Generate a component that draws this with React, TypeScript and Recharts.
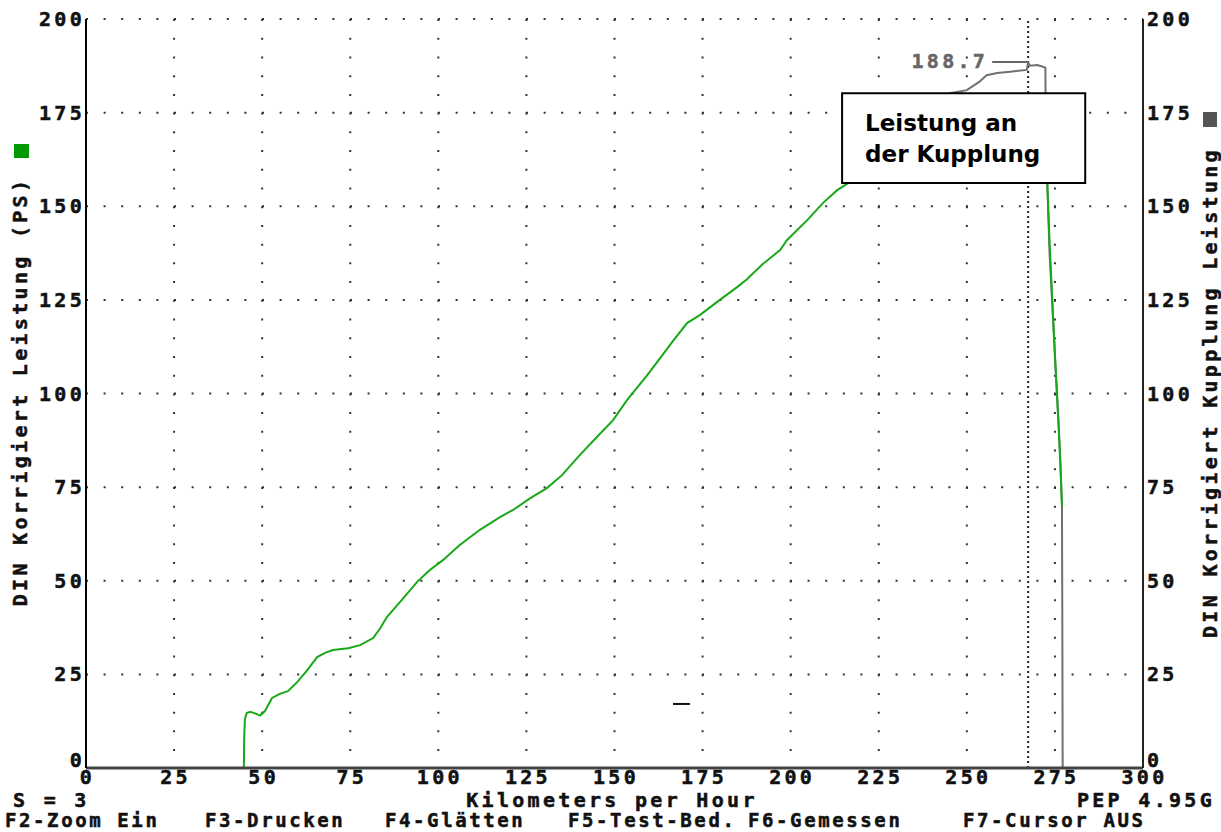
import React from "react";
import {
  LineChart,
  Line,
  XAxis,
  YAxis,
  CartesianGrid,
  ReferenceLine,
  ReferenceArea,
} from "recharts";

// ---- data ----
const xTicks = [0, 25, 50, 75, 100, 125, 150, 175, 200, 225, 250, 275, 300];
const yTicks = [0, 25, 50, 75, 100, 125, 150, 175, 200];

// DIN corrected power (green), [km/h, PS]
const dinSpeed = [
  44.8, 44.9, 45.1, 45.6, 46.6, 48, 49.4, 50.8, 52.8, 55, 57.3, 60, 62.7, 65.6, 68, 70.1,
  74.4, 77.8, 81.5, 83.5, 85.4, 89.1, 94, 97.5, 101.3, 106, 111.8, 117.5, 121.2, 126,
  130.9, 135.1, 140.2, 145, 149.6, 153.6, 159.3, 163, 166.4, 170.6, 174.3, 179.9, 184.8,
  187.6, 192, 197, 199, 204.7, 209.2, 213.2, 216.9, 225, 235, 245, 255, 265, 271.5, 272.5,
  272.8, 273.5, 274.5, 275.3, 276, 276.6, 277,
];
const dinPower = [
  0, 8, 13, 14.7, 15, 14.6, 14, 15.2, 18.7, 19.8, 20.5, 23, 26, 29.6, 30.8, 31.5, 32,
  32.8, 34.7, 37.3, 40.3, 44.3, 49.7, 52.8, 55.5, 59.5, 63.6, 67, 68.9, 72, 74.8, 78.2,
  83.6, 88.4, 92.9, 98.3, 104.9, 109.5, 113.8, 118.8, 121, 125, 128.4, 130.5, 134.5,
  138.3, 141, 146.3, 150.9, 154.3, 156.5, 161, 168, 174, 178, 179, 178, 165, 157, 140,
  120, 105, 92, 80, 70,
];

// Clutch power (gray), [km/h, PS]
const clutchSpeed = [
  238, 245.2, 250, 253.5, 255.6, 258.6, 263, 267, 267.4, 268, 270, 271.8, 272.3, 272.4,
  272.8, 273.5, 274.5, 275.1, 275.9, 276.5, 277, 277.1, 277.2,
];
const clutchPower = [
  175, 180.2, 181, 183.2, 185, 185.6, 186, 186.4, 188.3, 187.5, 187.7, 187.2, 187, 170,
  157, 137, 119.6, 108, 94.8, 83, 70, 40, 0,
];

const peakValue = 188.7;
const peakSpeed = 267.4;
const leaderStart = 257.2;
const markSpeeds = [166.6, 171.4];
const markPower = 17.1;
const boxX = [214.6, 283.6];
const boxY = [156.2, 180.2];
const boxLines = ["Leistung an", "der Kupplung"];

const leftTitle = "DIN Korrigiert Leistung (PS)";
const rightTitle = "DIN Korrigiert Kupplung Leistung";
const xTitle = "Kilometers per Hour";
const statusLeft = "S = 3";
const statusRight = "PEP 4.95G";
const fKeys = [
  { text: "F2-Zoom Ein", x: 5 },
  { text: "F3-Drucken", x: 205 },
  { text: "F4-Glätten", x: 385 },
  { text: "F5-Test-Bed.", x: 568 },
  { text: "F6-Gemessen", x: 748 },
  { text: "F7-Cursor AUS", x: 963 },
];

const dinData = dinSpeed.map((v, i) => ({ v, p: dinPower[i] }));
const clutchData = clutchSpeed.map((v, i) => ({ v, p: clutchPower[i] }));

const MONO = '"DejaVu Sans Mono", "Liberation Mono", monospace';
const monoStyle: React.CSSProperties = {
  fontFamily: MONO,
  fontWeight: "bold",
  fontSize: 20,
  letterSpacing: 3.3,
  stroke: "#111",
  strokeWidth: 0.5,
};
const fKeyStyle: React.CSSProperties = {
  ...monoStyle,
  fontSize: 19,
  letterSpacing: 2.6,
};

const LeftTick = (props: any) => {
  const { x, y, payload } = props;
  return (
    <text
      x={x}
      y={payload.value === 0 ? y - 8 : y}
      dy="0.355em"
      textAnchor="end"
      fill="#111"
      style={monoStyle}
    >
      {payload.value}
    </text>
  );
};

const RightTick = (props: any) => {
  const { x, y, payload } = props;
  return (
    <text
      x={x}
      y={payload.value === 0 ? y - 8 : y}
      dy="0.355em"
      textAnchor="start"
      fill="#111"
      style={monoStyle}
    >
      {payload.value}
    </text>
  );
};

const BottomTick = (props: any) => {
  const { x, y, payload } = props;
  return (
    <text x={x + 1.5} y={y} dy="0.71em" textAnchor="middle" fill="#111" style={monoStyle}>
      {payload.value}
    </text>
  );
};

export default function App() {
  return (
    <div
      style={{
        position: "absolute",
        left: 0,
        top: 0,
        width: 1221,
        height: 832,
        background: "#fff",
        overflow: "hidden",
      }}
    >
      <LineChart
        width={1221}
        height={832}
        margin={{ top: 19, right: 0, bottom: 0, left: 0 }}
      >
        <CartesianGrid
          yAxisId="L"
          horizontal={true}
          vertical={false}
          stroke="#333"
          strokeWidth={2}
          strokeDasharray="2 15.6"
        />
        <CartesianGrid
          yAxisId="L"
          horizontal={false}
          vertical={true}
          stroke="#333"
          strokeWidth={2}
          strokeDasharray="2 16.72"
        />
        <XAxis
          dataKey="v"
          type="number"
          domain={[0, 300]}
          ticks={xTicks}
          allowDataOverflow
          height={64}
          tickSize={0}
          tickMargin={2}
          tickLine={false}
          axisLine={{ stroke: "#444", strokeWidth: 3 }}
          tick={<BottomTick />}
          interval={0}
        />
        <YAxis
          yAxisId="L"
          type="number"
          domain={[0, 200]}
          ticks={yTicks}
          allowDataOverflow
          width={86}
          tickSize={0}
          tickMargin={1}
          tickLine={false}
          axisLine={{ stroke: "#000", strokeWidth: 2 }}
          tick={<LeftTick />}
          interval={0}
          label={(props: any) => {
            const vb = props.viewBox;
            const cx = vb.x + 20;
            const cy = vb.y + vb.height / 2 - 2;
            return (
              <text
                x={cx}
                y={cy}
                dy="0.355em"
                textAnchor="middle"
                transform={`rotate(-90 ${cx} ${cy})`}
                fill="#111"
                style={monoStyle}
              >
                {leftTitle}
              </text>
            );
          }}
        />
        <YAxis
          yAxisId="R"
          orientation="right"
          type="number"
          domain={[0, 200]}
          ticks={yTicks}
          allowDataOverflow
          width={78}
          tickSize={0}
          tickMargin={4}
          tickLine={false}
          axisLine={{ stroke: "#222", strokeWidth: 2 }}
          tick={<RightTick />}
          interval={0}
          label={(props: any) => {
            const vb = props.viewBox;
            const cx = vb.x + 67;
            const cy = vb.y + vb.height / 2 - 1;
            return (
              <text
                x={cx}
                y={cy}
                dy="0.355em"
                textAnchor="middle"
                transform={`rotate(-90 ${cx} ${cy})`}
                fill="#111"
                style={monoStyle}
              >
                {rightTitle}
              </text>
            );
          }}
        />
        <ReferenceLine
          yAxisId="L"
          x={peakSpeed}
          stroke="#222"
          strokeWidth={2}
          strokeDasharray="2 3"
        />
        <Line
          yAxisId="R"
          data={clutchData}
          dataKey="p"
          type="linear"
          stroke="#707070"
          strokeWidth={2}
          dot={false}
          isAnimationActive={false}
        />
        <Line
          yAxisId="L"
          data={dinData}
          dataKey="p"
          type="linear"
          stroke="#18a818"
          strokeWidth={2}
          dot={false}
          isAnimationActive={false}
        />
        <ReferenceLine
          yAxisId="L"
          segment={[
            { x: markSpeeds[0], y: markPower },
            { x: markSpeeds[1], y: markPower },
          ]}
          stroke="#111"
          strokeWidth={2}
        />
        <ReferenceLine
          yAxisId="L"
          segment={[
            { x: leaderStart, y: 188.5 },
            { x: peakSpeed, y: 188.5 },
          ]}
          stroke="#666"
          strokeWidth={2}
          label={(props: any) => {
            const vb = props.viewBox || {};
            return (
              <text
                x={(vb.x ?? 0) - 4}
                y={(vb.y ?? 0) - 1}
                dy="0.355em"
                textAnchor="end"
                fill="#666"
                style={{ ...monoStyle, stroke: "#666" }}
              >
                {peakValue.toFixed(1)}
              </text>
            );
          }}
        />
        <ReferenceArea
          yAxisId="L"
          x1={boxX[0]}
          x2={boxX[1]}
          y1={boxY[0]}
          y2={boxY[1]}
          fill="#fff"
          fillOpacity={1}
          stroke="#000"
          strokeWidth={2}
          ifOverflow="visible"
          zIndex={1500}
          label={(props: any) => {
            const vb = props.viewBox || {};
            const x0 = (vb.x ?? 0) + 23;
            const y0 = vb.y ?? 0;
            return (
              <g>
                {boxLines.map((t, i) => (
                  <text
                    key={t}
                    x={x0}
                    y={y0 + 38 + i * 31}
                    fill="#000"
                    style={{
                      fontFamily: '"DejaVu Sans", sans-serif',
                      fontWeight: "bold",
                      fontSize: 23,
                    }}
                  >
                    {t}
                  </text>
                ))}
              </g>
            );
          }}
        />
      </LineChart>
      <svg
        width={1221}
        height={832}
        style={{ position: "absolute", left: 0, top: 0, pointerEvents: "none" }}
      >
        <rect x={14} y={144} width={15} height={14} fill="#009900" />
        <rect x={1203} y={112} width={14} height={15} fill="#555" />
        <text x={612} y={807} textAnchor="middle" fill="#111" style={monoStyle}>
          {xTitle}
        </text>
        <text x={13} y={807} fill="#111" style={monoStyle}>
          {statusLeft}
        </text>
        <text x={1215} y={807} textAnchor="end" fill="#111" style={monoStyle}>
          {statusRight}
        </text>
        {fKeys.map((k) => (
          <text key={k.text} x={k.x} y={827} fill="#111" style={fKeyStyle}>
            {k.text}
          </text>
        ))}
      </svg>
    </div>
  );
}
